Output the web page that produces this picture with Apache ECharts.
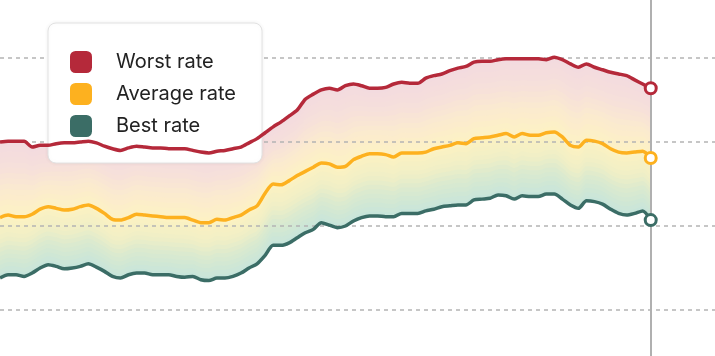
<!DOCTYPE html>
<html>
<head>
<meta charset="utf-8">
<script src="https://cdn.jsdelivr.net/npm/echarts@6/dist/echarts.min.js"></script>
<style>
html,body{margin:0;padding:0;background:#fff;}
#chart{width:715px;height:356px;}
</style>
</head>
<body>
<div id="chart"></div>
<script>
// Series values (one point per period, left to right)
const worstRate = [30.0,30.1,30.1,30.1,29.4,29.6,29.6,29.8,29.9,29.9,30.0,30.1,29.9,29.5,29.2,29.0,29.3,29.5,29.4,29.3,29.3,29.2,29.2,29.2,29.0,28.8,28.7,28.9,29.0,29.2,29.4,29.9,30.4,31.1,31.8,32.4,33.1,33.8,35.1,35.7,36.2,36.4,36.2,36.7,36.9,36.7,36.4,36.4,36.5,36.9,37.1,37.0,37.0,37.6,37.9,38.1,38.5,38.8,39.0,39.5,39.6,39.6,39.8,39.9,39.9,39.9,39.9,39.9,39.8,40.1,39.8,39.3,38.9,39.3,38.9,38.6,38.3,38.1,37.9,37.4,36.9,36.4];
const averageRate = [21.0,21.3,21.1,21.1,21.4,22.0,22.3,22.1,21.9,22.0,22.3,22.5,22.1,21.5,20.8,20.7,21.0,21.4,21.3,21.2,21.1,21.0,21.0,21.0,20.7,20.4,20.4,20.8,20.7,21.0,21.3,21.9,22.4,23.9,25.0,24.9,25.4,26.0,26.5,27.0,27.5,27.4,27.0,27.1,27.9,28.3,28.6,28.6,28.5,28.2,28.7,28.7,28.7,28.8,29.2,29.4,29.6,29.9,29.8,30.4,30.5,30.6,30.8,31.0,30.6,31.0,30.8,30.8,31.1,31.2,30.6,29.6,29.4,30.2,30.1,29.8,29.2,28.8,28.7,28.8,28.9,28.1];
const bestRate = [13.8,14.2,14.2,14.0,14.4,15.0,15.4,15.2,14.9,15.0,15.2,15.5,15.1,14.6,14.0,13.8,14.2,14.4,14.4,14.2,14.2,14.2,14.0,13.9,14.0,13.6,13.5,13.8,13.8,14.0,14.4,15.0,15.5,16.5,17.7,17.7,18.0,18.6,19.2,19.6,20.4,20.1,19.8,20.0,20.6,21.0,21.2,21.2,21.1,21.1,21.5,21.5,21.5,21.8,22.0,22.3,22.4,22.5,22.5,23.1,23.2,23.3,23.7,23.6,23.2,23.6,23.5,23.5,23.8,23.8,23.2,22.5,22.1,23.0,22.9,22.6,22.0,21.5,21.3,21.5,21.8,20.7];
const seriesNames = ['Worst rate','Average rate','Best rate'];
const seriesColors = ['#B5293A','#FDB11F','#3B6D66'];
const yTicks = {min: 10, max: 40, interval: 10};
const periodCount = 90; // axis runs past the last data period

// Band shading colour stops: position 0 = lower line, 1 = upper line
const lowerBandStops = [[0, [198,228,219]], [0.35, [216,233,208]], [0.65, [240,239,198]], [1, [253,242,194]]];
const upperBandStops = [[0, [253,242,195]], [0.35, [251,234,207]], [0.65, [246,224,219]], [1, [243,218,223]]];
const layersPerBand = 14;

const categories = Array.from({length: periodCount}, (_, i) => String(i + 1));
const lastIdx = worstRate.length - 1;

function rampColor(stops, t) {
  for (let i = 1; i < stops.length; i++) {
    if (t <= stops[i][0]) {
      const [t0, c0] = stops[i - 1], [t1, c1] = stops[i];
      const u = (t - t0) / (t1 - t0);
      const c = c0.map((v, j) => Math.round(v + (c1[j] - v) * u));
      return 'rgb(' + c.join(',') + ')';
    }
  }
  return 'rgb(' + stops[stops.length - 1][1].join(',') + ')';
}

function lineSeries(name, data, color) {
  return {
    name: name, type: 'line', data: data, z: 5, clip: false,
    smooth: 0.25,
    symbol: (val, p) => p.dataIndex === lastIdx ? 'circle' : 'none',
    symbolSize: 11,
    showSymbol: true, showAllSymbol: true,
    lineStyle: {color: color, width: 3.5},
    itemStyle: {color: '#fff', borderColor: color, borderWidth: 3},
    emphasis: {disabled: true}
  };
}

// nested shading layers: each covers lower line -> fraction of the band, largest first
function bandLayers(prefix, lower, upper, stops, zBase) {
  const out = [];
  for (let k = 0; k < layersPerBand; k++) {
    const frac = (layersPerBand - k) / layersPerBand;
    const colorPos = frac - 0.5 / layersPerBand;
    const stack = prefix + k;
    const common = {type: 'line', stack: stack, symbol: 'none', smooth: 0.25, silent: true,
      z: zBase, clip: false, lineStyle: {width: 0, opacity: 0}, emphasis: {disabled: true}};
    out.push(Object.assign({name: stack + 'b', data: lower.slice()}, common));
    out.push(Object.assign({name: stack + 't', data: upper.map((v, i) => +((v - lower[i]) * frac).toFixed(4)),
      areaStyle: {color: rampColor(stops, colorPos), opacity: 1}}, common));
  }
  return out;
}

const shading = bandLayers('lo', bestRate, averageRate, lowerBandStops, -2)
  .concat(bandLayers('up', averageRate, worstRate, upperBandStops, -2));

const chart = echarts.init(document.getElementById('chart'), null, {renderer: 'canvas'});
chart.setOption({
  animation: false,
  backgroundColor: '#fff',
  grid: [
    {left: 0, width: 716.4, top: 58, bottom: 46, containLabel: false},
    {left: 0, width: 716.4, top: 0, bottom: 0, containLabel: false}
  ],
  xAxis: [
    {type: 'category', gridIndex: 0, data: categories, boundaryGap: false, show: false},
    {type: 'category', gridIndex: 1, data: categories, boundaryGap: false, show: false}
  ],
  yAxis: [
    {
      type: 'value', gridIndex: 0, min: yTicks.min, max: yTicks.max, interval: yTicks.interval,
      axisLine: {show: false}, axisTick: {show: false}, axisLabel: {show: false},
      splitLine: {show: true, lineStyle: {color: '#b4b4b4', width: 1.5, type: [4, 4]}}
    },
    {type: 'value', gridIndex: 1, min: 0, max: 1, show: false}
  ],
  legend: {
    left: 48, top: 23, orient: 'vertical',
    backgroundColor: '#fff', borderColor: '#e2e2e2', borderWidth: 1, borderRadius: 8,
    shadowColor: 'rgba(0,0,0,0.06)', shadowBlur: 4,
    padding: [28, 26, 26, 22],
    itemGap: 10, itemWidth: 22, itemHeight: 22,
    selectedMode: false,
    textStyle: {fontFamily: 'Inter', fontSize: 20, color: '#222', padding: [0, 0, 0, 19]},
    data: seriesNames.map((nm, i) => ({name: nm, icon: 'roundRect', itemStyle: {color: seriesColors[i], borderWidth: 0}}))
  },
  series: shading.concat([
    lineSeries(seriesNames[2], bestRate, seriesColors[2]),
    lineSeries(seriesNames[1], averageRate, seriesColors[1]),
    lineSeries(seriesNames[0], worstRate, seriesColors[0]),
    {
      name: 'cursor', type: 'line', xAxisIndex: 1, yAxisIndex: 1, data: [], symbol: 'none', silent: true,
      markLine: {
        silent: true, symbol: 'none', label: {show: false},
        lineStyle: {color: '#b0b0b0', width: 2, type: 'solid'},
        data: [{xAxis: lastIdx}]
      }
    }
  ])
});
</script>
</body>
</html>
